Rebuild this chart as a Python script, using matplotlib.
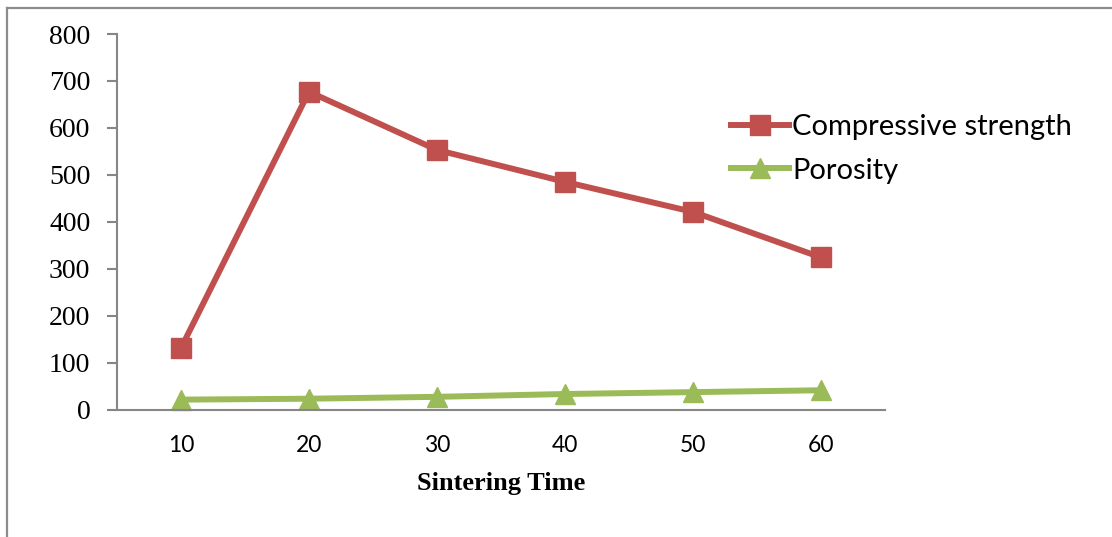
import matplotlib
matplotlib.use("Agg")
import matplotlib.pyplot as plt
from matplotlib.lines import Line2D

# Data
sintering_time = [10, 20, 30, 40, 50, 60]
compressive_strength = [131, 677, 553, 485, 421, 324]
porosity = [21, 23, 27, 33, 37, 41]
y_ticks = [0, 100, 200, 300, 400, 500, 600, 700, 800]

RED = "#C0504D"
GREEN = "#9BBB59"
AXIS_GREY = "#868686"

fig = plt.figure(figsize=(11.12, 5.37), dpi=100)
ax = fig.add_axes([117 / 1112, 1 - 409.5 / 537, 768 / 1112, 375.5 / 537])

ax.plot(sintering_time, compressive_strength, color=RED, lw=4.3,
        marker="s", ms=14, mfc=RED, mec=RED, label="Compressive strength",
        solid_joinstyle="round", clip_on=False)
ax.plot(sintering_time, porosity, color=GREEN, lw=4.3,
        marker="^", ms=15, mfc=GREEN, mec=GREEN, label="Porosity",
        solid_joinstyle="round", clip_on=False)

ax.set_xlim(5, 65)
ax.set_ylim(0, 800)
ax.set_xticks(sintering_time)
ax.set_yticks(y_ticks)

for s in ("top", "right"):
    ax.spines[s].set_visible(False)
for s in ("left", "bottom"):
    ax.spines[s].set_color(AXIS_GREY)
    ax.spines[s].set_linewidth(1.5)

ax.tick_params(axis="y", direction="out", length=7.2, width=1.5,
               color=AXIS_GREY, pad=12)
ax.tick_params(axis="x", length=0, pad=18)
for lbl in ax.get_yticklabels():
    lbl.set_fontfamily("Liberation Serif")
    lbl.set_fontsize(20)
for lbl in ax.get_xticklabels():
    lbl.set_fontfamily("Lato")
    lbl.set_fontsize(16.5)

ax.set_xlabel("Sintering Time", fontfamily="Liberation Serif",
              fontweight="bold", fontsize=19, labelpad=12)

leg = fig.legend(loc="upper left", bbox_to_anchor=(731 / 1112, 1 - 114 / 537),
                 frameon=False, prop={"family": "Lato", "size": 21},
                 handlelength=2.0, handletextpad=0.1, labelspacing=0.6,
                 borderaxespad=0, borderpad=0)

# outer chart frame
fig.add_artist(Line2D([7 / 1112, 7 / 1112], [0, 1 - 8 / 537],
                      transform=fig.transFigure, color="#8C8C8C", lw=1.6))
fig.add_artist(Line2D([7 / 1112, 1], [1 - 8 / 537, 1 - 8 / 537],
                      transform=fig.transFigure, color="#8C8C8C", lw=1.6))

fig.savefig("out.png", dpi=100)
